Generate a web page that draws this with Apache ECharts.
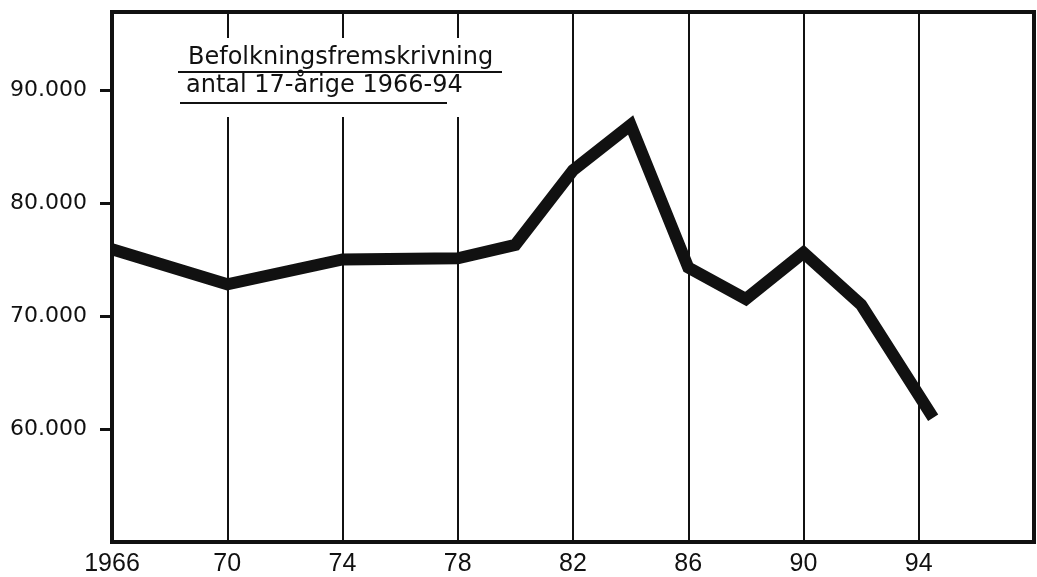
<!DOCTYPE html>
<html>
<head>
<meta charset="utf-8">
<script src="https://cdn.jsdelivr.net/npm/echarts/dist/echarts.min.js"></script>
<style>
  html, body { margin: 0; padding: 0; background: #fff; }
  #chart { width: 1037px; height: 577px; }
</style>
</head>
<body>
<div id="chart"></div>
<script>
// antal 17-årige
var years = [1966, 1970, 1974, 1978, 1980, 1982, 1984, 1986, 1988, 1990, 1992, 1994.5];
var counts = [75900, 72800, 75000, 75100, 76300, 82900, 86900, 74300, 71500, 75600, 71000, 61000];
var yTicks = [60000, 70000, 80000, 90000];
var xTicks = [1966, 1970, 1974, 1978, 1982, 1986, 1990, 1994];
var titleLines = ['Befolkningsfremskrivning', 'antal 17-årige 1966-94'];

var chart = echarts.init(document.getElementById('chart'), null, { renderer: 'canvas' });

var points = years.map(function (y, i) { return [y, counts[i]]; });

var option = {
  animation: false,
  backgroundColor: '#fff',
  grid: {
    left: 112,
    right: 1,
    top: 12,
    bottom: 34,
    show: true,
    borderWidth: 4,
    borderColor: '#111'
  },
  xAxis: {
    type: 'value',
    min: 1966,
    max: 1998,
    interval: 4, // ticks from min: 1966, 1970, ...
    axisLine: { show: true, lineStyle: { color: '#111', width: 4 } },
    axisTick: { show: false },
    splitLine: { show: true, lineStyle: { color: '#111', width: 2 } },
    axisLabel: {
      margin: 10,
      color: '#111',
      fontFamily: '"Liberation Sans", sans-serif',
      fontSize: 25,
      formatter: function (v) {
        if (xTicks.indexOf(v) < 0) return '';
        return v === 1966 ? '1966' : String(v).slice(2);
      }
    }
  },
  yAxis: {
    type: 'value',
    min: 50000,
    max: 96900,
    interval: 10000,
    axisLine: { show: true, lineStyle: { color: '#111', width: 4 } },
    axisTick: {
      show: true,
      inside: false,
      length: 12,
      customValues: yTicks,
      lineStyle: { color: '#111', width: 3 }
    },
    splitLine: { show: false },
    axisLabel: {
      margin: 25,
      color: '#111',
      fontFamily: '"DejaVu Sans", sans-serif',
      fontSize: 22,
      customValues: yTicks,
      formatter: function (v) {
        if (yTicks.indexOf(v) < 0) return '';
        return (v / 1000) + '.000';
      }
    }
  },
  graphic: [
    { type: 'rect', z: 100, shape: { x: 170, y: 38, width: 340, height: 79 }, style: { fill: '#fff' } },
    { type: 'text', z: 101, x: 188, y: 58, style: { text: titleLines[0], font: '24px "DejaVu Sans"', fill: '#111', verticalAlign: 'middle' } },
    { type: 'line', z: 101, shape: { x1: 178, y1: 72, x2: 502, y2: 72 }, style: { stroke: '#111', lineWidth: 2 } },
    { type: 'text', z: 101, x: 186, y: 86, style: { text: titleLines[1], font: '24px "DejaVu Sans"', fill: '#111', verticalAlign: 'middle' } },
    { type: 'line', z: 101, shape: { x1: 180, y1: 103, x2: 447, y2: 103 }, style: { stroke: '#111', lineWidth: 2 } }
  ],
  series: [{
    type: 'line',
    data: points,
    showSymbol: false,
    symbol: 'none',
    lineStyle: { color: '#111', width: 12, join: 'miter', cap: 'butt' },
    z: 5
  }]
};

chart.setOption(option);
</script>
</body>
</html>
